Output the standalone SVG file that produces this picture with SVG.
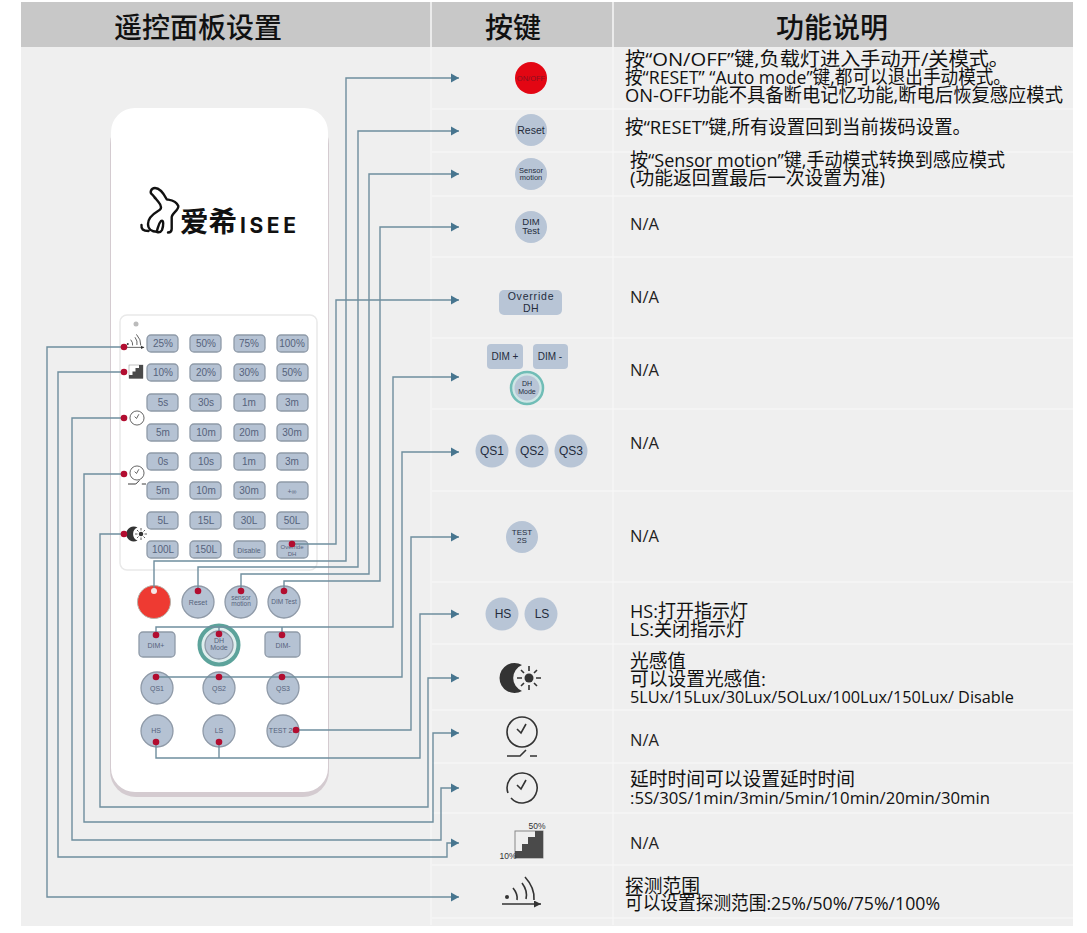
<svg xmlns="http://www.w3.org/2000/svg" xmlns:xlink="http://www.w3.org/1999/xlink" width="1087" height="933" viewBox="0 0 1087 933">
<style>
text{font-family:"Open Sans","Noto Sans CJK SC",sans-serif;fill:#111}
.h{font-family:"Noto Sans CJK SC",sans-serif;font-size:28px;font-weight:500;text-anchor:middle;fill:#111}
.d{font-size:19px}
.na{font-size:16.5px;fill:#222}
.lat{font-size:16.5px}
.sep{stroke:#f6f6f6;stroke-width:1.5;fill:none}
.c{fill:none;stroke:#6f8e9e;stroke-width:1.4}
.a{marker-end:url(#arw)}
.dot{fill:#b20d30}
.b{fill:#b5c2d3;stroke:#8f9aa8;stroke-width:1.3}
.bt{font-family:"Liberation Sans",sans-serif;font-size:10px;fill:#56637c;text-anchor:middle}
.k{fill:#b8c5d6}
.kt{font-family:"Liberation Sans",sans-serif;fill:#242c3c;text-anchor:middle}
.ic{fill:none;stroke:#333;stroke-width:1.6}
.icf{fill:#333}
</style>
<defs>
<marker id="arw" markerUnits="userSpaceOnUse" markerWidth="8" markerHeight="10" refX="8" refY="5" orient="auto"><path d="M0 0.5L8 5L0 9.5Z" fill="#47758f"/></marker>
<marker id="arw2" markerUnits="userSpaceOnUse" markerWidth="7" markerHeight="7" refX="7" refY="3.5" orient="auto"><path d="M0 0L7 3.5L0 7Z" fill="#333"/></marker>
<g id="i-moon"><path class="icf" d="M-7 -13A15 15 0 1 0 -7 13A14 14 0 0 1 -7 -13Z"/><circle class="icf" r="4.5"/><path class="ic" d="M0 -7V-12M0 7V12M-7 0H-12M7 0H12M-5 -5L-8 -8M5 -5L8 -8M-5 5L-8 8M5 5L8 8"/></g>
<g id="i-clock1"><circle class="ic" r="15"/><path class="ic" d="M-5 -3L-1 1L4 -8"/></g>
<g id="i-clock2"><path class="ic" d="M-14 5A15 15 0 1 1 -11 10"/><path class="ic" d="M-5 -3L-1 1L4 -8"/></g>
<g id="i-switch"><path class="ic" d="M-15 0H-2L4 -6M8 0H15"/></g>
<g id="i-stair"><rect x="-14" y="-14" width="28" height="27" fill="none" stroke="#888" stroke-width="1"/><path fill="#4a4a4a" d="M-14 13V6H-7V-1H-1V-8H6V-14H14V13Z"/></g>
<g id="i-range"><circle class="icf" cx="-15" cy="0" r="2"/><path class="ic" d="M-9 -9Q-4 -3 -5 3M0 -14Q6 -6 4 2M3 -20Q13 -9 12 3"/><path class="ic" d="M-20 7H19" marker-end="url(#arw2)"/></g>
</defs>

<g id="background">
<rect x="21" y="2" width="1052" height="924" fill="#efefef"/>
<rect x="21" y="2" width="1052" height="45" fill="#c8c8c8"/>
<path class="sep" d="M431 2V925M613 2V925"/>
<path class="sep" d="M432 109H1073M432 152H1073M432 196H1073M432 257H1073M432 338H1073M432 409H1073M432 491H1073M432 582H1073M432 644H1073M432 710H1073M432 763H1073M432 813H1073M432 865H1073M432 918H1073"/>
</g>

<g id="header">
<text class="h" x="198" y="38">遥控面板设置</text>
<text class="h" x="513" y="38">按键</text>
<text class="h" x="832" y="38">功能说明</text>
</g>

<g id="remote">
<rect x="110" y="118" width="219" height="679" rx="26" fill="#d4cbd0"/>
<rect x="111" y="108" width="217" height="684" rx="24" fill="#ffffff"/>
<rect x="120" y="315" width="197" height="255" rx="7" fill="#ffffff" stroke="#e9e9e9" stroke-width="1.5"/>
<circle cx="136" cy="324" r="2.5" fill="#bbbbbb"/>
<g id="logo">
<path d="M152.700 195C149 193 151 188 155 188C160 188 164 194 166.700 199.300C170 200 176 200 178.300 206C179 210 172 213 171.700 217V229C171.700 232 170 232.500 168 232.500M152.700 195L158.300 201.700C162 206 162 209 158 211C153 214 148 218 148 224C148 229 152 231.700 156.700 231.700C158 228 158 224 161 221C164 219 163.500 226 162 230C161 232 159 232.500 157 232M141.500 225C141 229 143 231 148.500 231" fill="none" stroke="#111" stroke-width="2.4" stroke-linecap="round" stroke-linejoin="round"/>
<circle cx="155" cy="198" r="1.3" fill="#111"/>
<text x="180" y="232" font-size="28" font-weight="700" textLength="57" lengthAdjust="spacingAndGlyphs" style="font-family:'Noto Sans CJK SC',sans-serif">爱希</text>
<text x="240" y="232.500" font-size="21" font-weight="700" textLength="56" lengthAdjust="spacing" style="font-family:'Inter',sans-serif">ISEE</text>
</g>
</g>

<g id="panel-icons">
<use xlink:href="#i-range" href="#i-range" transform="translate(135 344) scale(.48)"/>
<use xlink:href="#i-stair" href="#i-stair" transform="translate(136 372) scale(.5)"/>
<use xlink:href="#i-clock1" href="#i-clock1" transform="translate(137 418) scale(.47)"/>
<use xlink:href="#i-clock1" href="#i-clock1" transform="translate(137 473) scale(.47)"/>
<use xlink:href="#i-switch" href="#i-switch" transform="translate(137 484) scale(.6)"/>
<use xlink:href="#i-moon" href="#i-moon" transform="translate(141 534) scale(.5)"/>
</g>

<g id="panel-buttons">
<g id="p-25"><rect class="b" x="147" y="335" width="31" height="17" rx="4"/><text class="bt" x="163" y="347">25%</text></g>
<g id="p-50"><rect class="b" x="190" y="335" width="31" height="17" rx="4"/><text class="bt" x="206" y="347">50%</text></g>
<g id="p-75"><rect class="b" x="234" y="335" width="31" height="17" rx="4"/><text class="bt" x="249" y="347">75%</text></g>
<g id="p-100"><rect class="b" x="277" y="335" width="31" height="17" rx="4"/><text class="bt" x="292" y="347">100%</text></g>
<g id="p-10"><rect class="b" x="147" y="364" width="31" height="17" rx="4"/><text class="bt" x="163" y="376">10%</text></g>
<g id="p-20"><rect class="b" x="190" y="364" width="31" height="17" rx="4"/><text class="bt" x="206" y="376">20%</text></g>
<g id="p-30"><rect class="b" x="234" y="364" width="31" height="17" rx="4"/><text class="bt" x="249" y="376">30%</text></g>
<g id="p-50b"><rect class="b" x="277" y="364" width="31" height="17" rx="4"/><text class="bt" x="292" y="376">50%</text></g>
<g id="p-5s"><rect class="b" x="147" y="394" width="31" height="17" rx="4"/><text class="bt" x="163" y="406">5s</text></g>
<g id="p-30s"><rect class="b" x="190" y="394" width="31" height="17" rx="4"/><text class="bt" x="206" y="406">30s</text></g>
<g id="p-1m"><rect class="b" x="234" y="394" width="31" height="17" rx="4"/><text class="bt" x="249" y="406">1m</text></g>
<g id="p-3m"><rect class="b" x="277" y="394" width="31" height="17" rx="4"/><text class="bt" x="292" y="406">3m</text></g>
<g id="p-5m"><rect class="b" x="147" y="424" width="31" height="17" rx="4"/><text class="bt" x="163" y="436">5m</text></g>
<g id="p-10m"><rect class="b" x="190" y="424" width="31" height="17" rx="4"/><text class="bt" x="206" y="436">10m</text></g>
<g id="p-20m"><rect class="b" x="234" y="424" width="31" height="17" rx="4"/><text class="bt" x="249" y="436">20m</text></g>
<g id="p-30m"><rect class="b" x="277" y="424" width="31" height="17" rx="4"/><text class="bt" x="292" y="436">30m</text></g>
<g id="p-0s"><rect class="b" x="147" y="453" width="31" height="17" rx="4"/><text class="bt" x="163" y="465">0s</text></g>
<g id="p-10s"><rect class="b" x="190" y="453" width="31" height="17" rx="4"/><text class="bt" x="206" y="465">10s</text></g>
<g id="p-1mb"><rect class="b" x="234" y="453" width="31" height="17" rx="4"/><text class="bt" x="249" y="465">1m</text></g>
<g id="p-3mb"><rect class="b" x="277" y="453" width="31" height="17" rx="4"/><text class="bt" x="292" y="465">3m</text></g>
<g id="p-5mb"><rect class="b" x="147" y="482" width="31" height="17" rx="4"/><text class="bt" x="163" y="494">5m</text></g>
<g id="p-10mb"><rect class="b" x="190" y="482" width="31" height="17" rx="4"/><text class="bt" x="206" y="494">10m</text></g>
<g id="p-30mb"><rect class="b" x="234" y="482" width="31" height="17" rx="4"/><text class="bt" x="249" y="494">30m</text></g>
<g id="p-inf"><rect class="b" x="277" y="482" width="31" height="17" rx="4"/><text class="bt" x="292" y="494" style="font-size:7px">+∞</text></g>
<g id="p-5l"><rect class="b" x="147" y="512" width="31" height="17" rx="4"/><text class="bt" x="163" y="524">5L</text></g>
<g id="p-15l"><rect class="b" x="190" y="512" width="31" height="17" rx="4"/><text class="bt" x="206" y="524">15L</text></g>
<g id="p-30l"><rect class="b" x="234" y="512" width="31" height="17" rx="4"/><text class="bt" x="249" y="524">30L</text></g>
<g id="p-50l"><rect class="b" x="277" y="512" width="31" height="17" rx="4"/><text class="bt" x="292" y="524">50L</text></g>
<g id="p-100l"><rect class="b" x="147" y="541" width="31" height="17" rx="4"/><text class="bt" x="163" y="553">100L</text></g>
<g id="p-150l"><rect class="b" x="190" y="541" width="31" height="17" rx="4"/><text class="bt" x="206" y="553">150L</text></g>
<g id="p-dis"><rect class="b" x="234" y="541" width="31" height="17" rx="4"/><text class="bt" x="249" y="552.500" style="font-size:7px">Disable</text></g>
<g id="p-ovr"><rect class="b" x="277" y="541" width="31" height="17" rx="4"/><text class="bt" x="292" y="549" style="font-size:6px">Override</text><text class="bt" x="292" y="556" style="font-size:6px">DH</text></g>
<g id="p-onoff"><circle cx="154" cy="602" r="16.500" fill="#ee3a32" stroke="#b9b0a8" stroke-width="1"/></g>
<g id="p-reset"><circle class="b" cx="198" cy="602" r="16"/><text class="bt" x="198" y="605" style="font-size:7px">Reset</text></g>
<g id="p-sensor"><circle class="b" cx="241" cy="602" r="16"/><text class="bt" x="241" y="600" style="font-size:6.500px">sensor</text><text class="bt" x="241" y="606" style="font-size:6.500px">motion</text></g>
<g id="p-dimtest"><circle class="b" cx="284" cy="602" r="16"/><text class="bt" x="284" y="604" style="font-size:6.500px">DIM Test</text></g>
<g id="p-dimp"><rect class="b" x="139" y="632" width="36" height="25" rx="4"/><text class="bt" x="156" y="648" style="font-size:7px">DIM+</text></g>
<g id="p-dh"><circle cx="219" cy="645" r="19.500" fill="#dfeeee" stroke="#5ca39b" stroke-width="4"/><circle class="b" cx="219" cy="645" r="14"/><text class="bt" x="219" y="643" style="font-size:7px">DH</text><text class="bt" x="219" y="650" style="font-size:7px">Mode</text></g>
<g id="p-dimm"><rect class="b" x="265" y="632" width="35" height="25" rx="4"/><text class="bt" x="283" y="648" style="font-size:7px">DIM-</text></g>
<g id="p-qs1"><circle class="b" cx="157" cy="688" r="16"/><text class="bt" x="157" y="691" style="font-size:7px">QS1</text></g>
<g id="p-qs2"><circle class="b" cx="219" cy="688" r="16"/><text class="bt" x="219" y="691" style="font-size:7px">QS2</text></g>
<g id="p-qs3"><circle class="b" cx="283" cy="688" r="16"/><text class="bt" x="283" y="691" style="font-size:7px">QS3</text></g>
<g id="p-hs"><circle class="b" cx="157" cy="731" r="16"/><text class="bt" x="156" y="733" style="font-size:7px">HS</text></g>
<g id="p-ls"><circle class="b" cx="219" cy="731" r="16"/><text class="bt" x="219" y="733" style="font-size:7px">LS</text></g>
<g id="p-test"><circle class="b" cx="283" cy="731" r="16"/><text class="bt" x="283" y="733" style="font-size:7px">TEST 2S</text></g>
</g>

<g id="connectors">
<path class="c a" d="M154 591V561H346V78H459"/>
<path class="c a" d="M198 591V567H358V131H459"/>
<path class="c a" d="M241 591V574H369V174H459"/>
<path class="c a" d="M284 591V581H380V227H459"/>
<path class="c a" d="M292 544H336V300H459"/>
<path class="c a" d="M156 635V627H393V377H459"/>
<path class="c" d="M219 634V627M282 635V627"/>
<path class="c a" d="M157 677H402V452H459"/>
<path class="c a" d="M296 730H411V537H459"/>
<path class="c a" d="M156 742V758H420V614H459"/>
<path class="c" d="M219 742V758"/>
<path class="c a" d="M124 534H100V807H428V678H459"/>
<path class="c a" d="M124 474H84V822H433V733H459"/>
<path class="c a" d="M124 418H72V840H441V788H459"/>
<path class="c a" d="M124 372H58V857H447V843H459"/>
<path class="c a" d="M124 347H47V897H459"/>
</g>

<g id="dots">
<circle cx="154" cy="591" r="3" fill="#f6e6e6"/>
<circle class="dot" cx="198" cy="591" r="3.300"/><circle class="dot" cx="241" cy="591" r="3.300"/><circle class="dot" cx="284" cy="591" r="3.300"/>
<circle class="dot" cx="292" cy="544" r="3.300"/>
<circle class="dot" cx="156" cy="635" r="3.300"/><circle class="dot" cx="219" cy="634" r="3.300"/><circle class="dot" cx="282" cy="635" r="3.300"/>
<circle class="dot" cx="156" cy="677" r="3.300"/><circle class="dot" cx="219" cy="677" r="3.300"/><circle class="dot" cx="282" cy="677" r="3.300"/>
<circle class="dot" cx="296" cy="730" r="3.300"/><circle class="dot" cx="156" cy="742" r="3.300"/><circle class="dot" cx="219" cy="742" r="3.300"/>
<circle class="dot" cx="124" cy="347" r="3.300"/><circle class="dot" cx="124" cy="372" r="3.300"/><circle class="dot" cx="124" cy="418" r="3.300"/><circle class="dot" cx="124" cy="474" r="3.300"/><circle class="dot" cx="124" cy="534" r="3.300"/>
</g>

<g id="key-onoff"><circle cx="531" cy="78" r="16" fill="#e30613"/><text class="kt" x="531" y="81" font-size="7.500" style="fill:#8a1020">ON/OFF</text></g>
<g id="key-reset"><circle class="k" cx="531" cy="130" r="16"/><text class="kt" x="531" y="134" font-size="10.500">Reset</text></g>
<g id="key-sensor"><circle class="k" cx="531" cy="174" r="16"/><text class="kt" x="531" y="172.500" font-size="7.500">Sensor</text><text class="kt" x="531" y="180" font-size="7.500">motion</text></g>
<g id="key-dimtest"><circle class="k" cx="531" cy="227" r="16"/><text class="kt" x="531" y="225" font-size="9.500">DIM</text><text class="kt" x="531" y="234" font-size="9.500">Test</text></g>
<g id="key-override"><rect class="k" x="499" y="290" width="63" height="25" rx="5"/><text class="kt" x="531" y="300" font-size="10.500" letter-spacing=".8">Override</text><text class="kt" x="531" y="312" font-size="10.500" letter-spacing=".5">DH</text></g>
<g id="key-dimp"><rect class="k" x="487" y="344" width="36" height="25" rx="4"/><text class="kt" x="505" y="360" font-size="10">DIM +</text></g>
<g id="key-dimm"><rect class="k" x="533" y="344" width="35" height="25" rx="4"/><text class="kt" x="550" y="360" font-size="10">DIM -</text></g>
<g id="key-dh"><circle cx="527" cy="388" r="16" fill="#cfe6e6" stroke="#70bdb6" stroke-width="2.500"/><circle class="k" cx="527" cy="388" r="12.500"/><text class="kt" x="527" y="386" font-size="7">DH</text><text class="kt" x="527" y="394" font-size="7">Mode</text></g>
<g id="key-qs1"><circle class="k" cx="492" cy="451" r="16.500"/><text class="kt" x="492" y="455" font-size="12">QS1</text></g>
<g id="key-qs2"><circle class="k" cx="532" cy="451" r="16.500"/><text class="kt" x="532" y="455" font-size="12">QS2</text></g>
<g id="key-qs3"><circle class="k" cx="571" cy="451" r="16.500"/><text class="kt" x="571" y="455" font-size="12">QS3</text></g>
<g id="key-test"><circle class="k" cx="522" cy="537" r="16"/><text class="kt" x="522" y="535" font-size="8">TEST</text><text class="kt" x="522" y="543" font-size="8">2S</text></g>
<g id="key-hs"><circle class="k" cx="502" cy="614" r="16.500"/><text class="kt" x="503" y="618" font-size="12">HS</text></g>
<g id="key-ls"><circle class="k" cx="541" cy="614" r="16.500"/><text class="kt" x="542" y="618" font-size="12">LS</text></g>
<g id="key-moon"><use xlink:href="#i-moon" href="#i-moon" transform="translate(529 678)"/></g>
<g id="key-clock-switch"><use xlink:href="#i-clock1" href="#i-clock1" transform="translate(522 732)"/><use xlink:href="#i-switch" href="#i-switch" transform="translate(522 756)"/></g>
<g id="key-clock"><use xlink:href="#i-clock2" href="#i-clock2" transform="translate(522 788)"/></g>
<g id="key-stair"><use xlink:href="#i-stair" href="#i-stair" transform="translate(529 845)"/><text x="537" y="829" font-size="8.500" text-anchor="middle" style="font-family:'Liberation Sans',sans-serif;fill:#333">50%</text><text x="508" y="859" font-size="8.500" text-anchor="middle" style="font-family:'Liberation Sans',sans-serif;fill:#333">10%</text></g>
<g id="key-range"><use xlink:href="#i-range" href="#i-range" transform="translate(522 897)"/></g>

<g id="descriptions">
<text class="d" x="625" y="66" textLength="384" lengthAdjust="spacingAndGlyphs">按“ON/OFF”键,负载灯进入手动开/关模式。</text>
<text class="d" x="625" y="84" textLength="386" lengthAdjust="spacingAndGlyphs">按“RESET” “Auto mode”键,都可以退出手动模式。</text>
<text class="d" x="625" y="102" textLength="438" lengthAdjust="spacingAndGlyphs">ON-OFF功能不具备断电记忆功能,断电后恢复感应模式</text>
<text class="d" x="625" y="134" textLength="346" lengthAdjust="spacingAndGlyphs">按“RESET”键,所有设置回到当前拨码设置。</text>
<text class="d" x="630" y="167" textLength="375" lengthAdjust="spacingAndGlyphs">按“Sensor motion”键,手动模式转换到感应模式</text>
<text class="d" x="630" y="185" textLength="255" lengthAdjust="spacingAndGlyphs">(功能返回置最后一次设置为准)</text>
<text class="na" x="630" y="230">N/A</text>
<text class="na" x="630" y="303">N/A</text>
<text class="na" x="630" y="376">N/A</text>
<text class="na" x="630" y="449">N/A</text>
<text class="na" x="630" y="542">N/A</text>
<text class="d" x="630" y="618" textLength="118" lengthAdjust="spacingAndGlyphs">HS:打开指示灯</text>
<text class="d" x="630" y="636" textLength="114" lengthAdjust="spacingAndGlyphs">LS:关闭指示灯</text>
<text class="d" x="630" y="668" textLength="56" lengthAdjust="spacingAndGlyphs">光感值</text>
<text class="d" x="630" y="686" textLength="136" lengthAdjust="spacingAndGlyphs">可以设置光感值:</text>
<text class="lat" x="630" y="703" textLength="384" lengthAdjust="spacingAndGlyphs">5LUx/15Lux/30Lux/5OLux/100Lux/150Lux/ Disable</text>
<text class="na" x="630" y="746">N/A</text>
<text class="d" x="630" y="786" textLength="225" lengthAdjust="spacingAndGlyphs">延时时间可以设置延时时间</text>
<text class="lat" x="630" y="804" textLength="360" lengthAdjust="spacingAndGlyphs">:5S/30S/1min/3min/5min/10min/20min/30min</text>
<text class="na" x="630" y="849">N/A</text>
<text class="d" x="625" y="893" textLength="75" lengthAdjust="spacingAndGlyphs">探测范围</text>
<text class="d" x="625" y="910" textLength="315" lengthAdjust="spacingAndGlyphs">可以设置探测范围:25%/50%/75%/100%</text>
</g>
</svg>
